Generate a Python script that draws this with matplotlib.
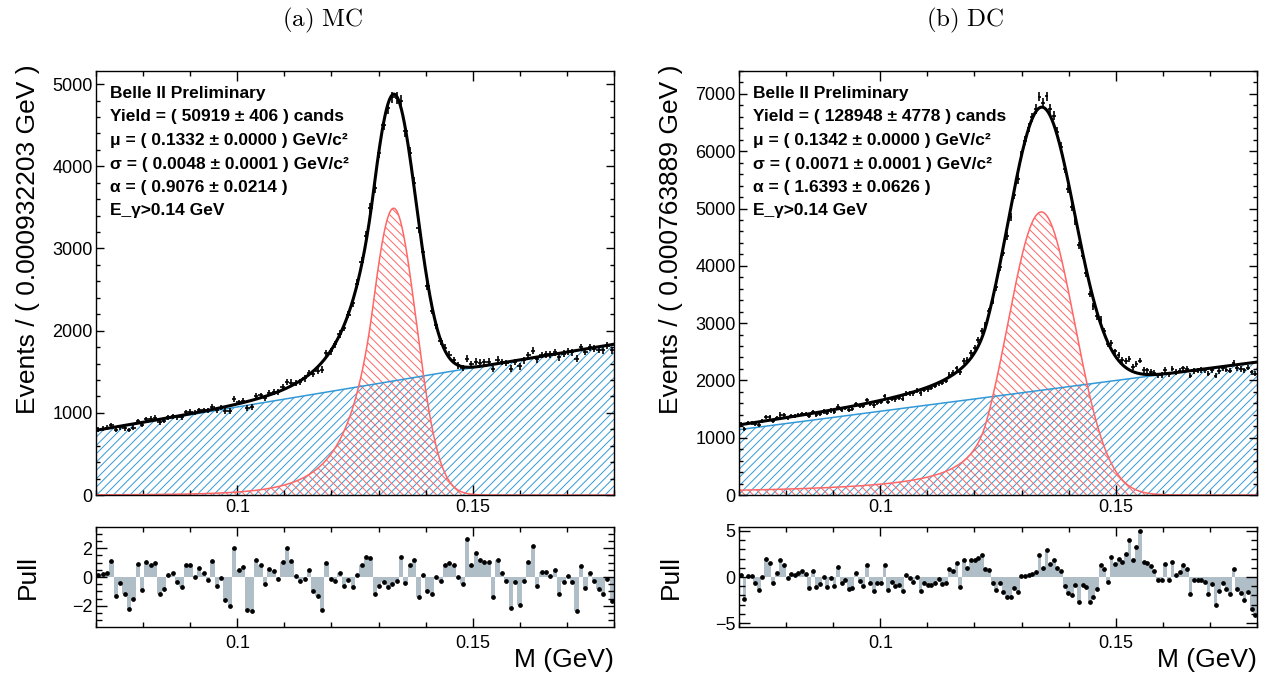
import numpy as np
import matplotlib
matplotlib.use('Agg')
import matplotlib.pyplot as plt
from matplotlib.ticker import MultipleLocator, FuncFormatter

plt.rcParams['font.family'] = ['Liberation Sans', 'DejaVu Sans']
plt.rcParams['mathtext.fontset'] = 'cm'
plt.rcParams['hatch.linewidth'] = 0.7

# binning of both fits
x_lo, x_hi = 0.07, 0.18
mc_nbins = 118
dc_nbins = 144

# fit results (shape from the text box, heights)
mc_mu, mc_sigma, mc_alpha, mc_n = 0.1332, 0.0048, 0.9076, 8.0
mc_sig_peak = 3490
mc_bkg_ends = [785, 1835]
dc_mu, dc_sigma, dc_alpha, dc_n = 0.1342, 0.0071, 1.6393, 1.1
dc_sig_peak = 4940
dc_bkg_ends = [1140, 2320]

# pulls read bin by bin from the lower panels
mc_pull = [0.16, 0.2, 0.3, 1.1, -1.3, -0.4, -1.2, -2.2, -1.5, 0.9,
           -0.9, 1.05, 0.8, 0.95, -1.2, -0.8, 0.15, 0.25, -0.35, -0.7,
           0.85, 0.8, 0.0, 0.65, 0.3, -0.2, 1.1, -0.6, -0.05, -1.6,
           -2.0, 2.0, 0.5, 0.7, -2.3, -2.35, 1.2, 0.85, -0.5, 0.55,
           0.4, -0.15, 1.05, 2.0, 1.1, 0.1, -0.3, -0.15, 0.5, -1.0,
           -1.3, -2.25, 1.0, -0.15, -0.3, 0.3, -0.6, -0.2, -0.7, 0.15,
           0.8, 1.35, 1.3, -1.2, -0.6, -0.35, -0.7, -0.45, -0.3, 1.35,
           -0.4, 0.8, 1.2, -1.35, 0.15, -1.0, -1.2, 0.0, -0.3, 0.8,
           1.0, 0.8, 0.0, -0.45, 2.6, 0.85, 1.65, 1.15, 1.05, 1.05,
           -1.35, 1.2, 0.3, -0.3, -2.15, -0.35, -1.95, -0.3, 1.05, 2.15,
           -0.65, 0.35, 0.35, 0.1, 0.5, -1.15, -0.35, 0.1, -0.35, -2.35,
           0.75, -0.75, 0.3, -0.3, -0.85, -1.15, -0.15, -1.65]
dc_pull = [0.2, -2.4, 0.15, 0.15, -0.6, -1.4, -0.05, 1.95, 1.55, -0.7,
           0.4, 1.9, 1.35, -0.15, 0.35, 0.25, 0.4, 0.6, 0.3, -1.15,
           0.7, -1.1, -0.8, 0.0, -1.1, -0.15, -0.95, 1.05, -0.7, -0.3,
           -1.35, -1.2, 0.45, -0.45, -0.95, 1.25, -0.6, -1.5, -0.7, -0.65,
           1.35, -1.4, -0.55, -1.0, -0.85, -1.5, 0.2, -0.15, -0.5, -0.05,
           -1.55, -0.6, -0.85, -0.85, -0.7, -0.2, -0.8, -0.7, 0.85, 0.6,
           1.5, -1.05, 1.85, 1.0, 1.85, 1.8, 2.05, 2.4, 0.9, 0.75,
           -0.6, -1.4, -0.6, -1.65, -2.15, -2.15, -1.15, -1.6, 0.1, 0.1,
           0.2, 0.3, 0.55, 2.4, 1.0, 2.9, 1.45, 1.9, 0.95, 0.6,
           -1.0, -1.7, -2.0, -0.9, -2.7, -0.9, -1.1, -2.7, -2.2, -1.35,
           1.25, 0.9, -0.5, 2.2, 1.45, 2.0, 1.6, 2.5, 4.0, 1.8,
           3.3, 5.0, 1.65, 1.55, 1.15, 0.7, -0.3, -0.35, 1.4, -0.35,
           1.6, 0.2, 0.55, 1.3, 0.9, -1.8, -0.3, -0.3, -0.3, -0.5,
           -1.9, -0.8, -3.0, -1.5, -0.6, -1.35, -1.85, 0.9, -1.25, -1.75,
           -2.45, -1.65, -3.5, -4.15]

mc_text = ['Belle II Preliminary',
           'Yield = ( 50919 \u00b1 406 ) cands',
           '\u03bc = ( 0.1332 \u00b1 0.0000 ) GeV/c\u00b2',
           '\u03c3 = ( 0.0048 \u00b1 0.0001 ) GeV/c\u00b2',
           '\u03b1 = ( 0.9076 \u00b1 0.0214 )',
           'E_\u03b3>0.14 GeV']
dc_text = ['Belle II Preliminary',
           'Yield = ( 128948 \u00b1 4778 ) cands',
           '\u03bc = ( 0.1342 \u00b1 0.0000 ) GeV/c\u00b2',
           '\u03c3 = ( 0.0071 \u00b1 0.0001 ) GeV/c\u00b2',
           '\u03b1 = ( 1.6393 \u00b1 0.0626 )',
           'E_\u03b3>0.14 GeV']

BLUE = '#3399d6'
RED = '#ff6666'
GREY = '#b0bec8'


def crystal_ball(x, mu, sigma, alpha, n):
    t = (x - mu) / sigma
    out = np.exp(-0.5 * t ** 2)
    a = (n / alpha) ** n * np.exp(-0.5 * alpha ** 2)
    b = n / alpha - alpha
    tail = t < -alpha
    out[tail] = a * (b - t[tail]) ** (-n)
    return out


def fmt(v, pos):
    return '%g' % round(v, 6)


def style(ax, xmaj_len, ymaj_len, xpad):
    ax.tick_params(which='both', direction='in', top=True, right=True,
                   labelsize=13, width=1)
    ax.tick_params(axis='x', which='major', length=xmaj_len, pad=xpad)
    ax.tick_params(axis='x', which='minor', length=xmaj_len * 0.5)
    ax.tick_params(axis='y', which='major', length=ymaj_len, pad=2.5)
    ax.tick_params(axis='y', which='minor', length=ymaj_len * 0.5)
    ax.xaxis.set_major_locator(MultipleLocator(0.05))
    ax.xaxis.set_minor_locator(MultipleLocator(0.01))
    ax.xaxis.set_major_formatter(FuncFormatter(fmt))
    for s in ax.spines.values():
        s.set_linewidth(1)


def panel(x0, nbins, mu, sigma, alpha, n, peak, bkg_ends, pulls, ymax,
          plim, pmaj, pmin, lines, title, ylab):
    W = 1271.0
    H = 675.0
    ax = fig.add_axes([x0 / W, 1 - 495 / H, 518 / W, 424 / H])
    axp = fig.add_axes([x0 / W, 1 - 627 / H, 518 / W, 100 / H])

    binw = (x_hi - x_lo) / nbins
    centers = x_lo + (np.arange(nbins) + 0.5) * binw
    xs = np.linspace(x_lo, x_hi, 1200)

    def bkg(x):
        return bkg_ends[0] + (bkg_ends[1] - bkg_ends[0]) * (x - x_lo) / (x_hi - x_lo)

    def sig(x):
        return peak * crystal_ball(x, mu, sigma, alpha, n)

    tot_c = bkg(centers) + sig(centers)
    data = tot_c + np.array(pulls) * np.sqrt(tot_c)

    ax.fill_between(xs, 0, bkg(xs), facecolor='none', edgecolor=BLUE,
                    hatch='////', linewidth=0)
    ax.plot(xs, bkg(xs), color=BLUE, lw=1.1)
    ax.fill_between(xs, 0, sig(xs), facecolor='none', edgecolor=RED,
                    hatch='\\\\\\\\', linewidth=0)
    ax.plot(xs, sig(xs), color=RED, lw=1.1)
    ax.errorbar(centers, data, yerr=np.sqrt(data), xerr=binw / 2, fmt='none',
                ecolor='black', elinewidth=1.2, capsize=0)
    ax.plot(xs, bkg(xs) + sig(xs), color='black', lw=2.2)
    ax.set_xlim(x_lo, x_hi)
    ax.set_ylim(0, ymax)
    style(ax, 7, 5.5, 3)
    ax.yaxis.set_major_locator(MultipleLocator(1000))
    ax.yaxis.set_minor_locator(MultipleLocator(200))

    for i, s in enumerate(lines):
        ax.text(0.027, (495 - (93.5 + 23.5 * i)) / 424.0, s,
                transform=ax.transAxes, fontsize=12.5, fontweight='bold',
                va='center', ha='left')

    axp.bar(centers, pulls, width=binw, color=GREY, linewidth=0)
    axp.plot(centers, pulls, 'o', color='black', ms=2.4)
    axp.set_xlim(x_lo, x_hi)
    axp.set_ylim(-plim, plim)
    style(axp, 6.5, 8, 6)
    axp.yaxis.set_major_locator(MultipleLocator(pmaj))
    axp.yaxis.set_minor_locator(MultipleLocator(pmin))

    fig.text((x0 - 68) / W, 1 - 64 / H, ylab, rotation=90, ha='center',
             va='top', fontsize=19)
    fig.text((x0 - 68) / W, 1 - 577 / H, 'Pull', rotation=90, ha='center',
             va='center', fontsize=19)
    fig.text((x0 + 518) / W, 1 - 660 / H, 'M (GeV)', ha='right',
             va='center', fontsize=19)
    fig.text((x0 - 96 + 322) / W, 1 - 20 / H, title, ha='center',
             va='center', fontsize=18)


fig = plt.figure(figsize=(12.71, 6.75), dpi=100)

panel(96, mc_nbins, mc_mu, mc_sigma, mc_alpha, mc_n, mc_sig_peak, mc_bkg_ends,
      mc_pull, 5160, 3.45, 2, 0.5, mc_text, r'$\mathrm{(a)\ MC}$',
      'Events / ( 0.000932203 GeV )')
panel(739, dc_nbins, dc_mu, dc_sigma, dc_alpha, dc_n, dc_sig_peak, dc_bkg_ends,
      dc_pull, 7400, 5.43, 5, 1, dc_text, r'$\mathrm{(b)\ DC}$',
      'Events / ( 0.000763889 GeV )')

fig.savefig('out.png', dpi=100)
